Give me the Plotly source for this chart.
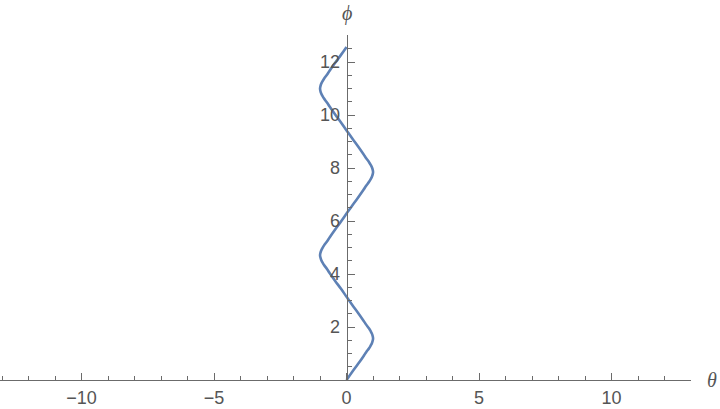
import plotly.graph_objects as go

# curve: phi (vertical) and theta (horizontal)
phi = [0.00, 0.30, 0.60, 0.90, 1.05, 1.20, 1.30, 1.40, 1.50, 1.57, 1.64, 1.74, 1.84, 1.94, 2.09, 2.24, 2.54, 2.84, 3.14,
       3.44, 3.74, 4.04, 4.19, 4.34, 4.44, 4.54, 4.64, 4.71, 4.78, 4.88, 4.98, 5.08, 5.23, 5.38, 5.68, 5.98, 6.28,
       6.58, 6.88, 7.18, 7.33, 7.48, 7.58, 7.68, 7.78, 7.85, 7.92, 8.02, 8.12, 8.22, 8.37, 8.52, 8.82, 9.12, 9.42,
       9.72, 10.02, 10.32, 10.47, 10.62, 10.72, 10.82, 10.92, 11.00, 11.07, 11.17, 11.27, 11.37, 11.52, 11.67, 11.97,
       12.27, 12.57]
theta = [0.00, 0.21, 0.43, 0.64, 0.74, 0.85, 0.91, 0.96, 0.99, 1.00, 0.99, 0.96, 0.91, 0.85, 0.74, 0.64, 0.43, 0.21, 0.00,
         -0.21, -0.43, -0.64, -0.74, -0.85, -0.91, -0.96, -0.99, -1.00, -0.99, -0.96, -0.91, -0.85, -0.74, -0.64, -0.43,
         -0.21, 0.00,
         0.21, 0.43, 0.64, 0.74, 0.85, 0.91, 0.96, 0.99, 1.00, 0.99, 0.96, 0.91, 0.85, 0.74, 0.64, 0.43, 0.21, 0.00,
         -0.21, -0.43, -0.64, -0.74, -0.85, -0.91, -0.96, -0.99, -1.00, -0.99, -0.96, -0.91, -0.85, -0.74, -0.64, -0.43,
         -0.21, 0.00]

x_ticks = [-10, -5, 0, 5, 10]
y_ticks = [2, 4, 6, 8, 10, 12]

axis_col = '#6b6b6b'
label_col = '#555555'
font = dict(family='Liberation Sans, Arial, sans-serif', size=18, color=label_col)

fig = go.Figure()
fig.add_trace(
    go.Scatter(x=theta, y=phi, mode='lines', line=dict(color='#5E81B5', width=2.6, shape='spline', smoothing=1.0),
               hoverinfo='skip')
)

fig.update_layout(
    width=720, height=409,
    margin=dict(l=0, r=29, t=35, b=29),
    paper_bgcolor='white', plot_bgcolor='white',
    showlegend=False,
    font=font,
    xaxis=dict(range=[-13.08, 13.0], showgrid=False, zeroline=False,
               showline=True, linecolor=axis_col, linewidth=1,
               tickvals=x_ticks, ticks='inside', ticklen=7, tickcolor=axis_col, tickwidth=1,
               minor=dict(dtick=1, tick0=0, ticks='inside', ticklen=4, tickcolor=axis_col, tickwidth=1),
               tickfont=font, ticklabelstandoff=1),
    yaxis=dict(range=[0, 13.02], showgrid=False, zeroline=False,
               showline=True, linecolor=axis_col, linewidth=1,
               anchor='free', position=346.6 / 691, side='left',
               tickvals=y_ticks, ticks='inside', ticklen=7, tickcolor=axis_col, tickwidth=1,
               minor=dict(dtick=0.5, tick0=0, ticks='inside', ticklen=4, tickcolor=axis_col, tickwidth=1),
               tickfont=font, ticklabelstandoff=3),
)

fig.add_annotation(x=1.0, y=0, xref='paper', yref='y', xanchor='left', yanchor='middle', xshift=14,
                   text='<i>θ</i>', showarrow=False, font=dict(family='Liberation Serif, serif', size=20, color=label_col))
fig.add_annotation(x=0, y=1.0, xref='x', yref='paper', xanchor='center', yanchor='bottom', yshift=8,
                   text='<i>ϕ</i>', showarrow=False, font=dict(family='Liberation Serif, serif', size=20, color=label_col))

fig.write_html('out.html', config={'displayModeBar': False},
               post_script="document.body.style.margin='0px';")
